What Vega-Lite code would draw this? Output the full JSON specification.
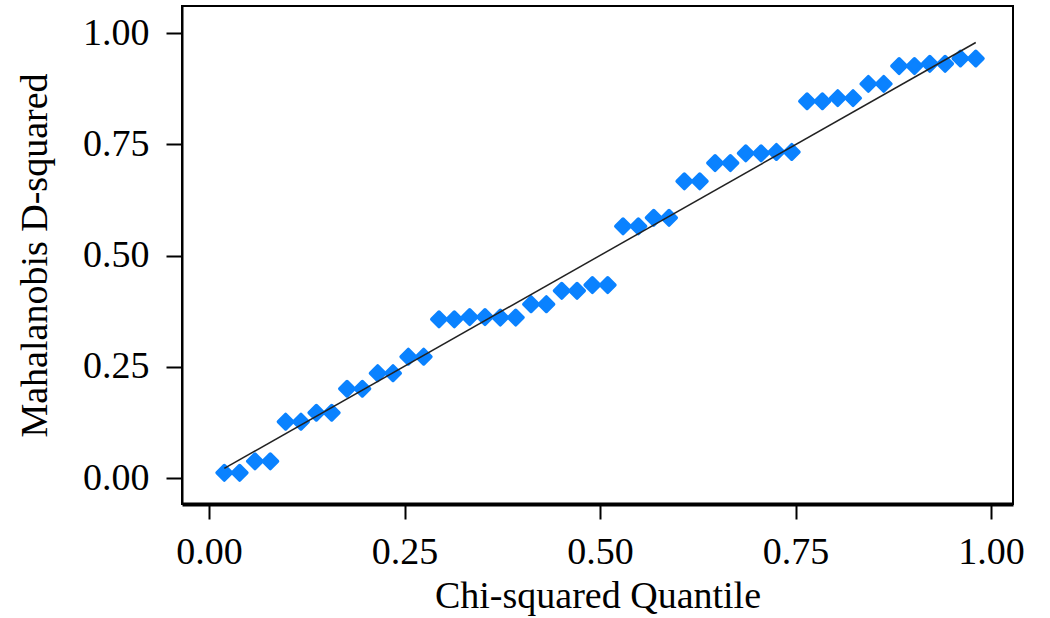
{
  "$schema": "https://vega.github.io/schema/vega-lite/v6.json",
  "width": 831,
  "height": 498,
  "autosize": {"type": "none"},
  "padding": {"left": 182, "top": 6, "right": 37, "bottom": 114},
  "background": "white",
  "config": {
    "view": {"stroke": "black", "strokeWidth": 2},
    "font": "Liberation Serif",
    "axis": {
      "grid": false,
      "labelFont": "Liberation Serif",
      "labelFontSize": 38,
      "labelColor": "black",
      "titleFont": "Liberation Serif",
      "titleFontSize": 38,
      "titleFontWeight": "normal",
      "titleColor": "black",
      "tickColor": "black",
      "tickWidth": 2,
      "domainColor": "black"
    }
  },
  "datasets": {
    "points": [
      {"q": 0.0196, "d2": 0.012}, {"q": 0.0392, "d2": 0.012},
      {"q": 0.0588, "d2": 0.038}, {"q": 0.0784, "d2": 0.038},
      {"q": 0.0980, "d2": 0.127}, {"q": 0.1176, "d2": 0.127},
      {"q": 0.1373, "d2": 0.147}, {"q": 0.1569, "d2": 0.147},
      {"q": 0.1765, "d2": 0.201}, {"q": 0.1961, "d2": 0.201},
      {"q": 0.2157, "d2": 0.236}, {"q": 0.2353, "d2": 0.236},
      {"q": 0.2549, "d2": 0.273}, {"q": 0.2745, "d2": 0.273},
      {"q": 0.2941, "d2": 0.357}, {"q": 0.3137, "d2": 0.357},
      {"q": 0.3333, "d2": 0.362}, {"q": 0.3529, "d2": 0.362},
      {"q": 0.3725, "d2": 0.361}, {"q": 0.3922, "d2": 0.361},
      {"q": 0.4118, "d2": 0.391}, {"q": 0.4314, "d2": 0.391},
      {"q": 0.4510, "d2": 0.421}, {"q": 0.4706, "d2": 0.421},
      {"q": 0.4902, "d2": 0.434}, {"q": 0.5098, "d2": 0.434},
      {"q": 0.5294, "d2": 0.566}, {"q": 0.5490, "d2": 0.566},
      {"q": 0.5686, "d2": 0.585}, {"q": 0.5882, "d2": 0.585},
      {"q": 0.6078, "d2": 0.667}, {"q": 0.6275, "d2": 0.667},
      {"q": 0.6471, "d2": 0.708}, {"q": 0.6667, "d2": 0.708},
      {"q": 0.6863, "d2": 0.730}, {"q": 0.7059, "d2": 0.730},
      {"q": 0.7255, "d2": 0.733}, {"q": 0.7451, "d2": 0.733},
      {"q": 0.7647, "d2": 0.847}, {"q": 0.7843, "d2": 0.847},
      {"q": 0.8039, "d2": 0.854}, {"q": 0.8235, "d2": 0.854},
      {"q": 0.8431, "d2": 0.886}, {"q": 0.8627, "d2": 0.886},
      {"q": 0.8824, "d2": 0.926}, {"q": 0.9020, "d2": 0.926},
      {"q": 0.9216, "d2": 0.931}, {"q": 0.9412, "d2": 0.931},
      {"q": 0.9608, "d2": 0.943}, {"q": 0.9804, "d2": 0.943}
    ],
    "reference": [
      {"q": 0.0196, "d2": 0.022},
      {"q": 0.9804, "d2": 0.979}
    ]
  },
  "encoding": {
    "x": {
      "field": "q",
      "type": "quantitative",
      "title": "Chi-squared Quantile",
      "scale": {"domain": [-0.0345, 1.028], "nice": false, "zero": false},
      "axis": {
        "values": [0, 0.25, 0.5, 0.75, 1],
        "format": ".2f",
        "tickSize": 15,
        "labelPadding": 14,
        "titlePadding": 6,
        "domainWidth": 4,
        "labelBaseline": "top"
      }
    },
    "y": {
      "field": "d2",
      "type": "quantitative",
      "title": "Mahalanobis D-squared",
      "scale": {"domain": [-0.058, 1.061], "nice": false, "zero": false},
      "axis": {
        "values": [0, 0.25, 0.5, 0.75, 1],
        "format": ".2f",
        "tickSize": 16,
        "labelPadding": 17,
        "titlePadding": 28,
        "domainWidth": 2
      }
    }
  },
  "layer": [
    {
      "data": {"name": "points"},
      "mark": {
        "type": "point",
        "shape": "diamond",
        "filled": true,
        "size": 210,
        "color": "#0A82FF",
        "stroke": "#0A82FF",
        "strokeWidth": 3.5,
        "strokeJoin": "round",
        "opacity": 1
      }
    },
    {
      "data": {"name": "reference"},
      "mark": {"type": "line", "color": "#222222", "strokeWidth": 1.5}
    }
  ]
}
